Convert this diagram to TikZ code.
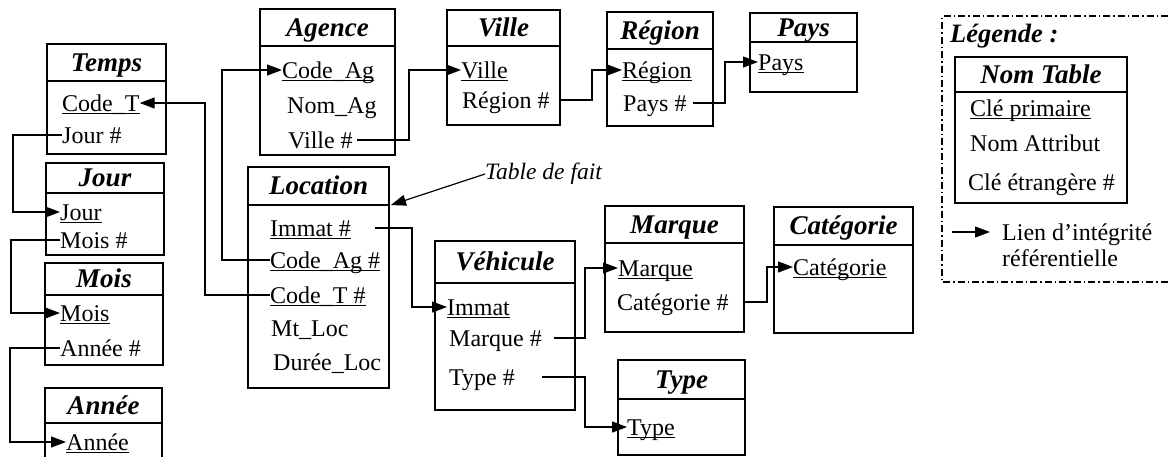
\documentclass[tikz,border=0pt]{standalone}
\usepackage{fontspec}
\setmainfont{Liberation Serif}
\usetikzlibrary{arrows.meta}

% underlined primary key
\newsavebox\pkbox
\newcommand\pk[1]{\sbox\pkbox{#1}\rlap{\rule[-3.2pt]{\wd\pkbox}{1.1pt}}\usebox\pkbox}

\tikzset{
  tbox/.style={draw, line width=1.6pt, inner sep=0pt, outer sep=0pt, anchor=north west},
  sepline/.style={line width=1.6pt},
  hdr/.style={font=\fontsize{27}{31}\selectfont\bfseries\itshape, inner sep=0pt, text height=17.5pt, text depth=0pt},
  attr/.style={font=\fontsize{24}{28}\selectfont, anchor=west, inner sep=0pt, text height=16pt, text depth=0pt},
  fk/.style={line width=1.2pt, -{Triangle[length=15pt,width=11pt]}},
  legframe/.style={line width=1.3pt, dash pattern=on 7pt off 3pt on 1.5pt off 3pt},
  note/.style={font=\fontsize{23.5}{26}\selectfont\itshape, anchor=west, inner sep=0pt},
  legtitle/.style={font=\fontsize{26.5}{30}\selectfont\bfseries\itshape, anchor=west, inner sep=0pt},
  legtext/.style={font=\fontsize{24}{26}\selectfont, align=left, anchor=north west, inner sep=0pt}
}

% #1 name, #2 left, #3 top, #4 right, #5 bottom, #6 header rule, #7 title
\newcommand\dbtable[7]{%
  \node[tbox, minimum width={#4-#2}, minimum height={#5-#3}] (#1) at (#2,#3) {};
  \draw[sepline] (#2,#6) -- (#4,#6);
  \node[hdr] (#1-h) at ({(#2+#4)/2},{(#3+#6)/2}) {#7};
}

\begin{document}
\begin{tikzpicture}[x=1pt, y=-1pt]
\useasboundingbox (0,0) rectangle (1168,456);
\clip (0,0) rectangle (1168,456);
\fill[white] (0,0) rectangle (1168,456);

% time dimension chain
\dbtable{tps}{47}{44}{166}{154}{81}{Temps}
\node[attr] (tps-code) at (62,103) {\pk{Code\_T}};
\node[attr] (tps-jour) at (62,135) {Jour \#};

\dbtable{jr}{46}{163}{164}{255}{193}{Jour}
\node[attr] (jr-jour) at (60,212) {\pk{Jour}};
\node[attr] (jr-mois) at (60,240) {Mois \#};

\dbtable{ms}{45}{263}{163}{365}{295}{Mois}
\node[attr] (ms-mois) at (60,313) {\pk{Mois}};
\node[attr] (ms-annee) at (60,348) {Année \#};

\dbtable{an}{45}{388}{162}{470}{423}{Année}
\node[attr] (an-annee) at (66,442) {\pk{Année}};

% agency and geography
\dbtable{ag}{260}{9}{395}{155}{46}{Agence}
\node[attr] (ag-code) at (282,70) {\pk{Code\_Ag}};
\node[attr] (ag-nom) at (287,105) {Nom\_Ag};
\node[attr] (ag-ville) at (288,140) {Ville \#};

\dbtable{vl}{447}{10}{560}{125}{46}{Ville}
\node[attr] (vl-ville) at (461,70) {\pk{Ville}};
\node[attr] (vl-region) at (462,100) {Région \#};

\dbtable{rg}{607}{12}{713}{126}{49}{Région}
\node[attr] (rg-region) at (622,70) {\pk{Région}};
\node[attr] (rg-pays) at (623,103) {Pays \#};

\dbtable{py}{750}{13}{857}{92}{42}{Pays}
\node[attr] (py-pays) at (758,62) {\pk{Pays}};

% fact table
\dbtable{loc}{248}{167}{389}{388}{205}{Location}
\node[attr] (loc-immat) at (270,228) {\pk{Immat \#}};
\node[attr] (loc-ag) at (270,260) {\pk{Code\_Ag \#}};
\node[attr] (loc-t) at (270,295) {\pk{Code\_T \#}};
\node[attr] (loc-mt) at (271,328) {Mt\_Loc};
\node[attr] (loc-duree) at (273,362) {Durée\_Loc};
\coordinate (locsep) at (391,205);

\node[note] (tdf) at (485,174) {Table de fait};

% vehicle dimension
\dbtable{vh}{435}{241}{575}{410}{283}{Véhicule}
\node[attr] (vh-immat) at (447,307) {\pk{Immat}};
\node[attr] (vh-marque) at (449,338) {Marque \#};
\node[attr] (vh-type) at (449,377) {Type \#};

\dbtable{mq}{605}{206}{744}{332}{243}{Marque}
\node[attr] (mq-marque) at (618,268) {\pk{Marque}};
\node[attr] (mq-cat) at (617,302) {Catégorie \#};

\dbtable{ct}{774}{207}{913}{333}{245}{Catégorie}
\node[attr] (ct-cat) at (793,267) {\pk{Catégorie}};

\dbtable{ty}{618}{360}{745}{455}{399}{Type}
\node[attr] (ty-type) at (627,427) {\pk{Type}};

% referential integrity links
\draw[fk] (tps-jour.west) -- (13,0 |- tps-jour.west) |- (jr-jour.west);
\draw[fk] (jr-mois.west) -- (11,0 |- jr-mois.west) |- (ms-mois.west);
\draw[fk] (ms-annee.west) -- (10,0 |- ms-annee.west) |- (an-annee.west);
\draw[fk] (loc-t.west) -- (205,0 |- loc-t.west) |- (tps-code.east);
\draw[fk] (loc-ag.west) -- (222,0 |- loc-ag.west) |- (ag-code.west);
\draw[fk] ([xshift=4pt]ag-ville.east) -- (409,0 |- ag-ville.east) |- (vl-ville.west);
\draw[fk] ([xshift=11pt]vl-region.east) -- (592,0 |- vl-region.east) |- (rg-region.west);
\draw[fk] ([xshift=6pt]rg-pays.east) -- (725,0 |- rg-pays.east) |- (py-pays.west);
\draw[fk] ([xshift=24pt]loc-immat.east) -- (412,0 |- loc-immat.east) |- (vh-immat.west);
\draw[fk] ([xshift=12pt]vh-marque.east) -- (585,0 |- vh-marque.east) |- (mq-marque.west);
\draw[fk] ([xshift=27pt]vh-type.east) -- (585,0 |- vh-type.east) |- (ty-type.west);
\draw[fk] ([xshift=14pt]mq-cat.east) -- (767,0 |- mq-cat.east) |- (ct-cat.west);
\draw[fk] (tdf.west) -- (locsep);

% legend
\draw[legframe] (1168,16) -- (942,16) -- (942,282) -- (1168,282);
\node[legtitle] (legt) at (950,36) {Légende :};
\dbtable{lt}{955}{57}{1127}{203}{92}{Nom Table}
\node[attr] (lt-pk) at (970,108) {\pk{Clé primaire}};
\node[attr] (lt-attr) at (970,143) {Nom Attribut};
\node[attr] (lt-fk) at (968,182) {Clé étrangère \#};
\node[legtext] (leglink) at (1002,223.5) {Lien d'intégrité\\référentielle};
\coordinate (legtail) at (952,232);
\coordinate (leghead) at (990,232);
\draw[fk] (legtail) -- (leghead);
\end{tikzpicture}
\end{document}
